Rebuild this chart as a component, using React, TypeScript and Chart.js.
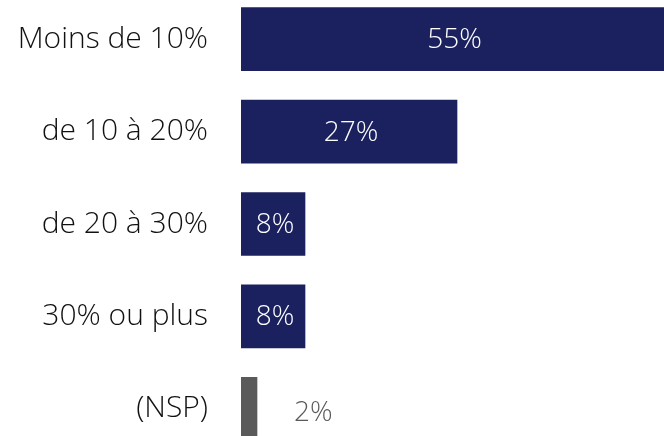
import React, { useEffect, useRef } from "react";
import { Chart, registerables } from "chart.js";

Chart.register(...registerables);

const categories = ["Moins de 10%", "de 10 à 20%", "de 20 à 30%", "30% ou plus", "(NSP)"];
const values = [55, 27, 8, 8, 2];
const barColors = ["#1b215e", "#1b215e", "#1b215e", "#1b215e", "#5a5a5a"];
const valueLabels = ["55%", "27%", "8%", "8%", "2%"];
const labelInside = [true, true, true, true, false];

const FONT = "'Open Sans', 'Segoe UI', sans-serif";

const valuePlugin = {
  id: "valueLabels",
  afterDatasetsDraw(chart: any) {
    const ctx = chart.ctx;
    const meta = chart.getDatasetMeta(0);
    const area = chart.chartArea;
    ctx.save();
    ctx.font = `300 28px ${FONT}`;
    ctx.textBaseline = "middle";
    meta.data.forEach((bar: any, i: number) => {
      const left = bar.base;
      const right = Math.min(bar.x, area.right);
      if (labelInside[i]) {
        ctx.fillStyle = "#ffffff";
        ctx.textAlign = "center";
        ctx.fillText(valueLabels[i], (left + right) / 2 + 2, bar.y + 1);
      } else {
        ctx.fillStyle = "#5a5a5a";
        ctx.textAlign = "left";
        ctx.fillText(valueLabels[i], right + 37, bar.y + 4);
      }
    });
    ctx.restore();
  },
};

export default function App() {
  const ref = useRef<HTMLCanvasElement>(null);
  useEffect(() => {
    document.body.style.margin = "0";
    const chart = new Chart(ref.current!, {
      type: "bar",
      data: {
        labels: categories,
        datasets: [
          {
            data: values,
            backgroundColor: barColors,
            borderWidth: 0,
            barThickness: 63,
          },
        ],
      },
      options: {
        indexAxis: "y",
        animation: false,
        responsive: false,
        layout: { padding: 0 },
        plugins: { legend: { display: false }, tooltip: { enabled: false } },
        scales: {
          x: { display: false, min: 0, max: 52.875 },
          y: {
            grid: { display: false, drawTicks: false },
            border: { display: false },
            afterFit: (scale: any) => {
              scale.width = 241;
              scale.paddingTop = 0;
              scale.paddingBottom = 0;
            },
            ticks: {
              padding: 33,
              color: "#111111",
              font: { family: FONT, size: 30, weight: "300" as any },
            },
          },
        },
      },
      plugins: [valuePlugin],
    });
    return () => chart.destroy();
  }, []);
  return (
    <div style={{ position: "fixed", left: 0, top: 0, width: 664, height: 436, overflow: "hidden", background: "#fff" }}>
      <canvas
        ref={ref}
        width={664}
        height={462}
        style={{ position: "absolute", left: 0, top: -6.9, width: 664, height: 462 }}
      />
    </div>
  );
}
